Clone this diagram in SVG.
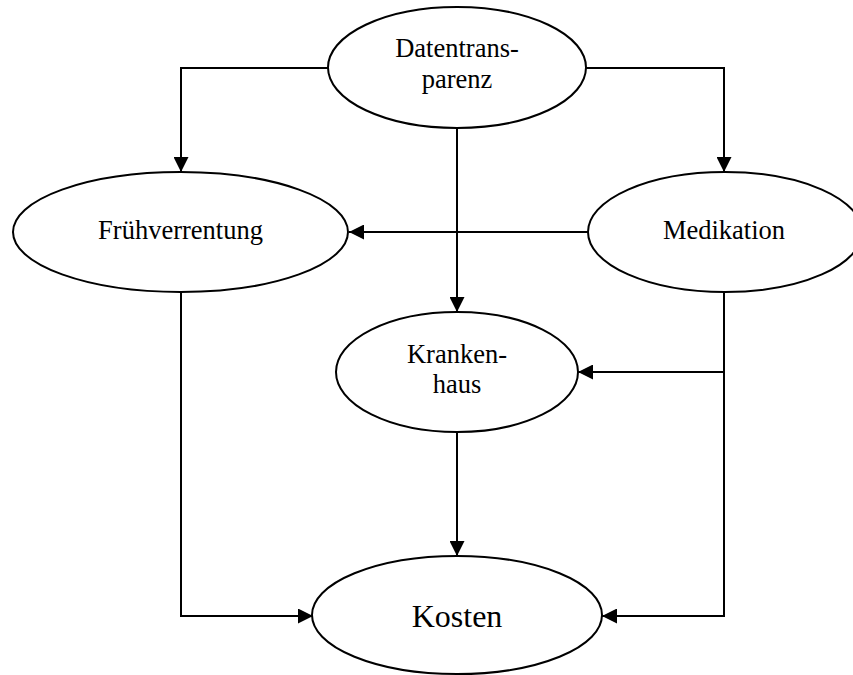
<svg xmlns="http://www.w3.org/2000/svg" width="853" height="675" viewBox="0 0 853 675">
<style>
.node ellipse{fill:#fff;stroke:#000;stroke-width:2}
.node text{font-family:"Liberation Serif","Times New Roman",serif;font-size:26.5px;fill:#000;text-anchor:middle}
.conn path{fill:none;stroke:#000;stroke-width:2;marker-end:url(#arr)}
</style>
<defs>
<marker id="arr" markerUnits="userSpaceOnUse" markerWidth="15" markerHeight="15" refX="15" refY="7.5" orient="auto">
<path d="M0,0 L15,7.5 L0,15 z" fill="#000"/>
</marker>
</defs>
<rect width="853" height="675" fill="#fff"/>
<g id="connectors" class="conn">
<path d="M328,68 H181 V172"/>
<path d="M586,68 H724 V172"/>
<path d="M457,128 V312"/>
<path d="M588,232 H349"/>
<path d="M724,292 V372 H578"/>
<path d="M724,372 V616 H602"/>
<path d="M181,292 V616 H313"/>
<path d="M457,432 V556"/>
</g>
<g id="datentransparenz" class="node">
<ellipse cx="457" cy="67.5" rx="129" ry="60.5"/>
<text x="457" y="57">Datentrans-</text>
<text x="457" y="88">parenz</text>
</g>
<g id="fruehverrentung" class="node">
<ellipse cx="180.5" cy="232" rx="167.5" ry="60"/>
<text x="180.5" y="239">Frühverrentung</text>
</g>
<g id="medikation" class="node">
<ellipse cx="725" cy="232" rx="137" ry="60"/>
<text x="724" y="239">Medikation</text>
</g>
<g id="krankenhaus" class="node">
<ellipse cx="457" cy="372" rx="121" ry="60"/>
<text x="457" y="363">Kranken-</text>
<text x="457" y="393">haus</text>
</g>
<g id="kosten" class="node">
<ellipse cx="457" cy="615" rx="145" ry="59"/>
<text x="457" y="627" style="font-size:32px">Kosten</text>
</g>
</svg>
